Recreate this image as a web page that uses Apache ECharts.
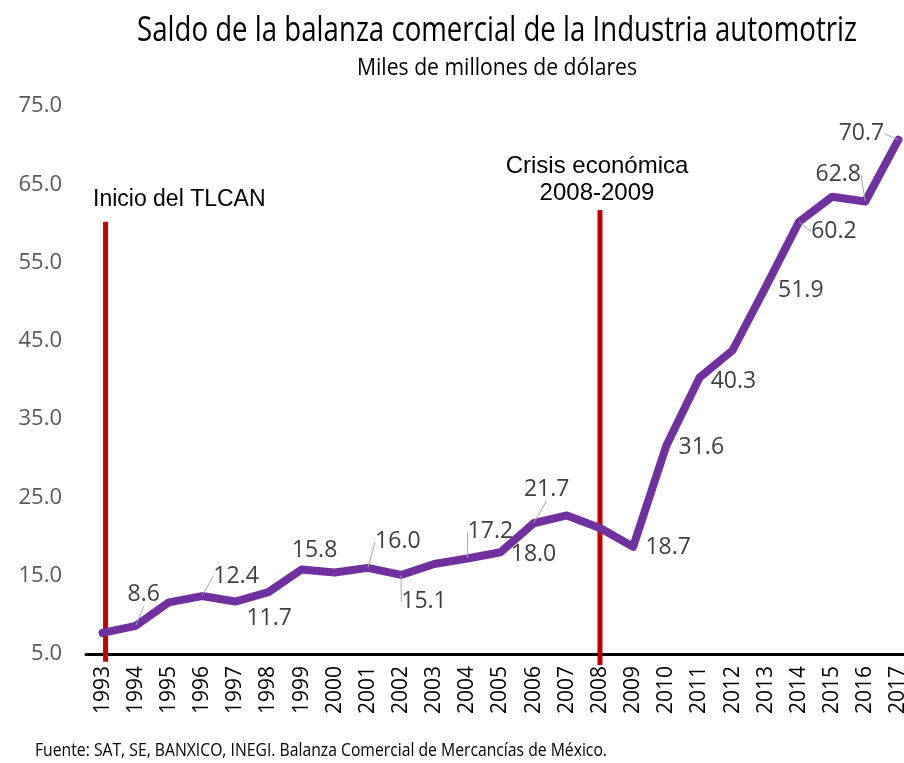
<!DOCTYPE html>
<html>
<head>
<meta charset="utf-8">
<script src="https://cdn.jsdelivr.net/npm/echarts@6/dist/echarts.min.js"></script>
<style>html,body{margin:0;padding:0;background:#fff}#c{width:904px;height:763px}</style>
</head>
<body>
<div id="c"></div>
<script>
const years = ['1993','1994','1995','1996','1997','1998','1999','2000','2001','2002','2003','2004','2005','2006','2007','2008','2009','2010','2011','2012','2013','2014','2015','2016','2017'];
const saldo = [7.7, 8.6, 11.6, 12.4, 11.7, 12.9, 15.8, 15.4, 16.0, 15.1, 16.5, 17.2, 18.0, 21.7, 22.7, 21.1, 18.7, 31.6, 40.3, 43.8, 51.9, 60.2, 63.4, 62.8, 70.7];
// which points carry a value label
const labeledYears = ['1994','1996','1997','1999','2001','2002','2004','2005','2006','2009','2010','2011','2013','2014','2016','2017'];
const yTicks = [5, 15, 25, 35, 45, 55, 65, 75];
const eventYears = ['1993', '2008'];
const eventFrom = [4.0, 3.6];
const eventTo = [60.2, 61.7];
const eventTexts = ['Inicio del TLCAN', 'Crisis económica\n2008-2009'];
const titleText = 'Saldo de la balanza comercial de la Industria automotriz';
const subtitleText = 'Miles de millones de dólares';
const sourceText = 'Fuente: SAT, SE, BANXICO, INEGI. Balanza Comercial de Mercancías de México.';

// label placement (style only): offset of label centre from point, and whether a leader line is drawn
const labelStyle = {
  '1994': [8, -31, true], '1996': [34, -20, true], '1997': [34, 17, false], '1999': [13, -19, false],
  '2001': [30, -26, true], '2002': [23, 27, true], '2004': [23, -27, true], '2005': [33, 2, false],
  '2006': [13, -34, true], '2009': [35, 1, false], '2010': [35, 2, false], '2011': [34, 4, false],
  '2013': [35, 4, false], '2014': [35, 10, true], '2016': [-27, -27, true], '2017': [-37, -6, true]
};
const eventShift = [3, 0];

// emulate a condensed face by measuring and squeezing horizontally
const measureCtx = document.createElement('canvas').getContext('2d');
function squeeze(text, font, targetWidth) {
  measureCtx.font = font;
  return targetWidth / measureCtx.measureText(text).width;
}
const titleFont = "34px 'Open Sans'";
const subFont = "23px 'Open Sans'";
const srcFont = "18px 'Open Sans'";

const seriesData = saldo.map((v, i) => {
  const y = years[i];
  const item = {value: v};
  if (labeledYears.includes(y)) {
    item.label = {show: true, position: 'inside'};
    item.labelLine = {show: labelStyle[y][2]};
  } else {
    item.label = {show: false};
  }
  return item;
});

const chart = echarts.init(document.getElementById('c'));
chart.setOption({
  animation: false,
  grid: {left: 86, right: -11, top: 106, bottom: 109, containLabel: false, outerBoundsMode: 'none'},
  xAxis: {
    type: 'category', data: years, boundaryGap: true,
    axisLine: {show: true, lineStyle: {color: '#000', width: 3}},
    axisTick: {show: false},
    axisLabel: {rotate: 90, margin: 12, fontFamily: 'Open Sans', fontSize: 21, color: '#000', interval: 0}
  },
  yAxis: {
    type: 'value', min: 5, max: 75, interval: 5,
    axisLine: {show: false}, axisTick: {show: false}, splitLine: {show: false},
    axisLabel: {
      margin: 24, fontFamily: 'Open Sans', fontSize: 22, color: '#595959',
      formatter: v => yTicks.includes(v) ? v.toFixed(1) : ''
    }
  },
  series: [
    {
      type: 'custom', clip: false, z: 2, silent: true,
      data: eventYears.map((y, i) => [y, eventFrom[i], eventTo[i]]),
      renderItem: (params, api) => {
        const p0 = api.coord([api.value(0), api.value(1)]);
        const p1 = api.coord([api.value(0), api.value(2)]);
        const sh = eventShift[params.dataIndex];
        return {type: 'line', shape: {x1: p0[0] + sh, y1: p0[1], x2: p1[0] + sh, y2: p1[1]},
                style: {stroke: '#c00000', lineWidth: 5}};
      }
    },
    {
      type: 'line', data: seriesData, symbol: 'circle', symbolSize: 1, showSymbol: true, showAllSymbol: true,
      clip: false, z: 3,
      itemStyle: {color: 'rgba(0,0,0,0)'},
      lineStyle: {color: '#7030a0', width: 8, cap: 'round', join: 'round'},
      label: {fontFamily: 'Open Sans', fontSize: 23, color: '#404040', formatter: p => p.value.toFixed(1)},
      labelLine: {lineStyle: {color: '#a6a6a6', width: 1}},
      labelLayout: params => {
        const s = labelStyle[years[params.dataIndex]];
        return s ? {dx: s[0], dy: s[1]} : {};
      }
    }
  ],
  graphic: [
    {type: 'text', x: 497, y: 31, scaleX: squeeze(titleText, titleFont, 720), silent: true,
     style: {text: titleText, font: titleFont, fill: '#000', align: 'center', verticalAlign: 'middle'}},
    {type: 'text', x: 497, y: 68, scaleX: squeeze(subtitleText, subFont, 280), silent: true,
     style: {text: subtitleText, font: subFont, fill: '#000', align: 'center', verticalAlign: 'middle'}},
    {type: 'text', x: 35, y: 751, scaleX: squeeze(sourceText, srcFont, 572), silent: true,
     style: {text: sourceText, font: srcFont, fill: '#000', align: 'left', verticalAlign: 'middle'}},
    {type: 'text', x: 93, y: 200, silent: true,
     style: {text: eventTexts[0], font: "23px 'Liberation Sans', Arial, sans-serif", fill: '#000', align: 'left', verticalAlign: 'middle'}},
    {type: 'text', x: 597, y: 180, silent: true,
     style: {text: eventTexts[1], font: "24px 'Liberation Sans', Arial, sans-serif", fill: '#000', align: 'center', verticalAlign: 'middle', lineHeight: 27}}
  ]
});
</script>
</body>
</html>
